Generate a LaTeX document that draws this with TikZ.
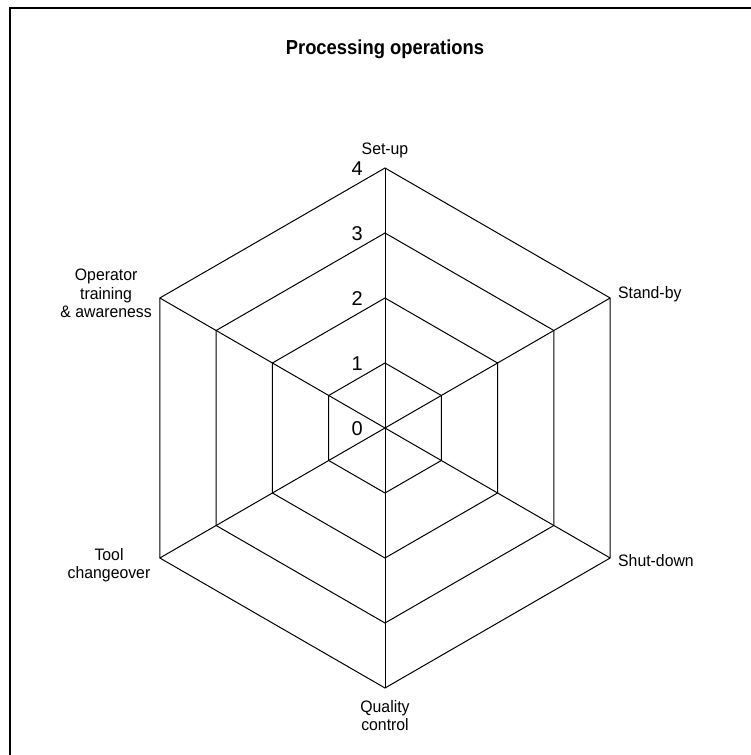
\documentclass[tikz,border=0pt]{standalone}
\usepackage{fontspec}
\setmainfont{Liberation Sans}
\begin{document}
\begin{tikzpicture}[x=1pt,y=1pt,
  grid/.style={line width=1pt, black},
  frame/.style={line width=2.2pt, black},
  axislabel/.style={font=\fontsize{15.8}{17.6}\selectfont, align=center,
    inner sep=0pt, yscale=1.05, transform shape},
  scalelabel/.style={font=\fontsize{20}{22}\selectfont, inner sep=0pt, anchor=east},
  titlelabel/.style={font=\bfseries\fontsize{18.4}{20}\selectfont, inner sep=0pt,
    yscale=1.1, transform shape}
]
\useasboundingbox (0,0) rectangle (751,755);

% outer frame (only the left and top sides fall inside the page)
\coordinate (fb) at (10,-20);
\coordinate (ftl) at (10,747);
\coordinate (ftr) at (780,747);
\draw[frame] (fb) -- (ftl) -- (ftr);

\node[titlelabel, anchor=base] (title) at (385,700) {Processing operations};

\begin{scope}[shift={(385,327)}]
  \coordinate (c) at (0,0);
  % hexagon vertices: level k, axis i
  \foreach \k in {1,...,4}{
    \foreach \i/\a in {0/90,1/30,2/-30,3/-90,4/-150,5/150}{
      \coordinate (v\k-\i) at (\a:{65*\k});
    }
  }
  % rings
  \foreach \k in {1,...,4}{
    \draw[grid] (v\k-0) -- (v\k-1) -- (v\k-2) -- (v\k-3) -- (v\k-4) -- (v\k-5) -- cycle;
  }
  % spokes
  \foreach \i in {0,...,5}{
    \draw[grid] (c) -- (v4-\i);
  }
  % scale values along the upper axis
  \node[scalelabel] (s0) at (-22,-1) {0};
  \foreach \k in {1,...,4}{
    \node[scalelabel] (s\k) at (-22,{65*\k-1}) {\k};
  }
\end{scope}

% axis names
\node[axislabel, anchor=base] (setup) at (385,600) {Set-up};
\node[axislabel, anchor=base west] (standby) at (618,456) {Stand-by};
\node[axislabel, anchor=base west] (shutdown) at (618,188) {Shut-down};
\node[axislabel, anchor=north] (quality) at (385,55) {Quality\\control};
\node[axislabel, anchor=north east] (tool) at (150.5,207) {Tool\\changeover};
\node[axislabel, anchor=north east] (operator) at (152,486) {Operator\\training\\\& awareness};
\end{tikzpicture}
\end{document}
